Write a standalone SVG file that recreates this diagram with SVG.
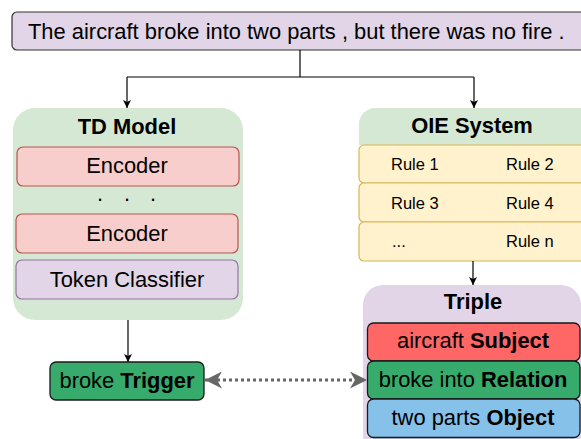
<svg xmlns="http://www.w3.org/2000/svg" width="581" height="439" viewBox="0 0 581 439">
  <style>
    text { font-family: "Liberation Sans", Arial, sans-serif; fill: #000; }
    .big { font-size: 21.9px; }
    .small { font-size: 16.5px; }
    .b { font-weight: bold; }
    .mid { text-anchor: middle; }
    .wire { fill: none; stroke: #000; stroke-width: 1.2; }
    .enc { fill: #f8cecc; stroke: #b85450; stroke-width: 1.2; }
    .cls { fill: #e1d5e7; stroke: #9673a6; stroke-width: 1.2; }
    .rule { fill: #fff2cc; stroke: #d6b656; stroke-width: 1.2; }
    .item { stroke: #1a1a1a; stroke-width: 1.3; }
  </style>
  <defs>
    <marker id="arr" viewBox="0 0 10 10" refX="10" refY="5" markerWidth="8" markerHeight="8" markerUnits="userSpaceOnUse" orient="auto">
      <path d="M0,0 L10,5 L0,10 L2.5,5 Z" fill="#000"/>
    </marker>
    <marker id="garr" viewBox="0 0 12 12" refX="12" refY="6" markerWidth="17" markerHeight="17" markerUnits="userSpaceOnUse" orient="auto-start-reverse">
      <path d="M0,0 L12,6 L0,12 L3.5,6 Z" fill="#666"/>
    </marker>
  </defs>

  <!-- input sentence -->
  <g id="sentence">
    <rect x="12" y="12" width="580" height="38" rx="5" fill="#e1d5e7" stroke="#333" stroke-width="1.2"/>
    <text class="big" x="28" y="39">The aircraft broke into two parts , but there was no fire .</text>
  </g>

  <!-- trigger detection model -->
  <g id="td-model">
    <rect x="13" y="108" width="230" height="212" rx="22" fill="#d5e8d4"/>
    <text class="big b mid" x="127" y="134">TD Model</text>
    <rect class="enc" x="17" y="147" width="222" height="39" rx="6"/>
    <text class="big mid" x="127" y="173">Encoder</text>
    <text class="big" x="97 124 150" y="201">...</text>
    <rect class="enc" x="16" y="214" width="222" height="39" rx="6"/>
    <text class="big mid" x="127" y="241">Encoder</text>
    <rect class="cls" x="16" y="260" width="222" height="39" rx="6"/>
    <text class="big mid" x="127" y="287">Token Classifier</text>
  </g>

  <!-- rule-based OIE system -->
  <g id="oie-system">
    <path d="M359,145 V124 a16,16 0 0 1 16,-16 H600 V145 Z" fill="#d5e8d4"/>
    <text class="big b mid" x="472" y="133">OIE System</text>
    <rect class="rule" x="359" y="145" width="240" height="38" rx="5"/>
    <rect class="rule" x="359" y="183" width="240" height="39" rx="5"/>
    <rect class="rule" x="359" y="222" width="240" height="39" rx="5"/>
    <text class="small" x="391" y="170">Rule 1</text>
    <text class="small" x="506" y="170">Rule 2</text>
    <text class="small" x="391" y="209">Rule 3</text>
    <text class="small" x="506" y="209">Rule 4</text>
    <text class="small" x="392" y="247">...</text>
    <text class="small" x="506" y="247">Rule n</text>
  </g>

  <!-- extracted triple -->
  <g id="triple">
    <rect x="363" y="285" width="218" height="170" rx="20" fill="#e1d5e7"/>
    <text class="big b mid" x="473" y="309">Triple</text>
    <rect class="item" x="367.5" y="323" width="212.5" height="38" rx="6" fill="#ff6666"/>
    <text class="big mid" x="473" y="348">aircraft <tspan class="b">Subject</tspan></text>
    <rect class="item" x="367.5" y="361" width="212.5" height="38" rx="6" fill="#36ab6b"/>
    <text class="big mid" x="473" y="387">broke into <tspan class="b">Relation</tspan></text>
    <rect class="item" x="367.5" y="399" width="212.5" height="38.5" rx="6" fill="#85c1e9"/>
    <text class="big mid" x="473" y="425">two parts <tspan class="b">Object</tspan></text>
  </g>

  <!-- detected trigger -->
  <g id="trigger">
    <rect class="item" x="50" y="362" width="154" height="38" rx="6" fill="#36ab6b"/>
    <text class="big mid" x="127" y="388">broke <tspan class="b">Trigger</tspan></text>
  </g>

  <g id="connectors">
    <path class="wire" d="M300,50 V77"/>
    <path class="wire" d="M127,77 H474"/>
    <path class="wire" d="M127,77 V108" marker-end="url(#arr)"/>
    <path class="wire" d="M474,77 V108" marker-end="url(#arr)"/>
    <path class="wire" d="M128,320 V362" marker-end="url(#arr)"/>
    <path class="wire" d="M473,261 V285" marker-end="url(#arr)"/>
    <path d="M205,380 H367" fill="none" stroke="#666" stroke-width="3" stroke-dasharray="3 3" marker-start="url(#garr)" marker-end="url(#garr)"/>
  </g>
</svg>
